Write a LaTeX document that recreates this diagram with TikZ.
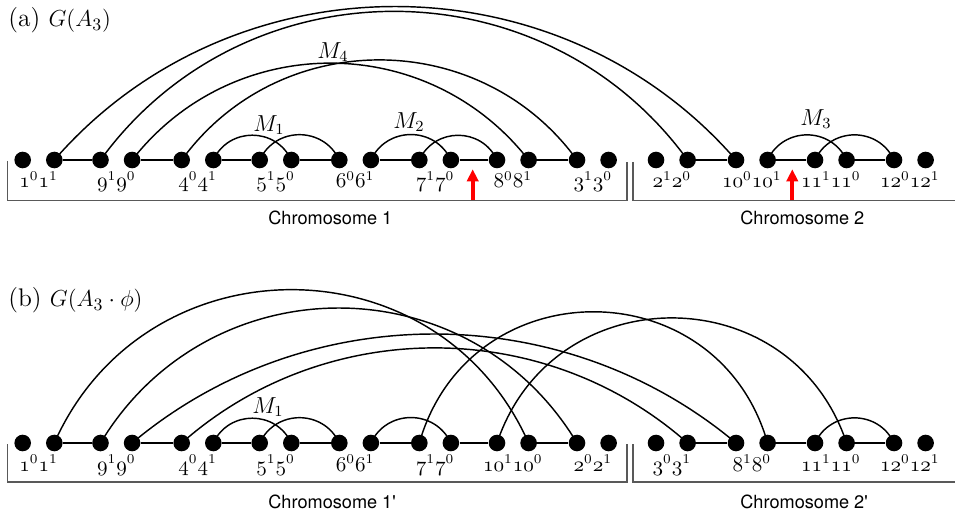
\documentclass[tikz,border=0pt]{standalone}
\usepackage{fontspec}
\newfontfamily\chromfont{TeX Gyre Heros}
\usetikzlibrary{arrows.meta}

% both extremities of a gene, with its label below
\newcommand{\gene}[6]{%
  \node[dot] (#1#4-#5) at (#2,#3) {};
  \node[dot] (#1#4-#6) at (#2+31.6,#3) {};
  \node[extlabel] (#1#4-lab) at (#2+15.8,#3-28) {$\mathnormal{#4}^{#5}\mathnormal{#4}^{#6}$};
}

\begin{document}
\begin{tikzpicture}[
    x=0.518pt, y=0.518pt,
    dot/.style={circle, fill=black, inner sep=0pt, minimum size=8.6pt},
    extlabel/.style={anchor=base, inner sep=0pt, font=\fontsize{10.5}{12}\selectfont},
    adj/.style={line width=1pt},
    arcline/.style={line width=0.75pt},
    shortbend/.style={bend left=65, looseness=1.2},
    chrom/.style={draw=black!65, line width=0.6pt},
    chromlabel/.style={anchor=west, inner sep=0pt, font=\chromfont\fontsize{9.4}{11}\selectfont},
    mlabel/.style={inner sep=0pt, font=\fontsize{12}{14}\selectfont},
    paneltitle/.style={anchor=base west, inner sep=0pt, font=\fontsize{13.2}{16}\selectfont},
    cutarrow/.style={draw=red, line width=1.9pt, -{Triangle[width=5.8pt, length=6.2pt]}}
]
    \useasboundingbox (0,0) rectangle (955,512);

    % (a) G(A_3)
    \node[paneltitle] (titleA) at (8,485) {(a) $G(A_3)$};
    % Chromosome 1
    \gene{a}{22.7}{352}{1}{0}{1}
    \gene{a}{100.5}{352}{9}{1}{0}
    \gene{a}{181.7}{352}{4}{0}{1}
    \gene{a}{259.7}{352}{5}{1}{0}
    \gene{a}{339.3}{352}{6}{0}{1}
    \gene{a}{419.3}{352}{7}{1}{0}
    \gene{a}{497}{352}{8}{0}{1}
    \gene{a}{577}{352}{3}{1}{0}
    % Chromosome 2
    \gene{a}{656}{352}{2}{1}{0}
    \gene{a}{736}{352}{10}{0}{1}
    \gene{a}{815}{352}{11}{1}{0}
    \gene{a}{894}{352}{12}{0}{1}
    % adjacencies
    \draw[adj] (a1-1) -- (a9-1);
    \draw[adj] (a9-0) -- (a4-0);
    \draw[adj] (a4-1) -- (a5-1);
    \draw[adj] (a5-0) -- (a6-0);
    \draw[adj] (a6-1) -- (a7-1);
    \draw[adj] (a7-0) -- (a8-0);
    \draw[adj] (a8-1) -- (a3-1);
    \draw[adj] (a2-0) -- (a10-0);
    \draw[adj] (a10-1) -- (a11-1);
    \draw[adj] (a11-0) -- (a12-0);
    % arcs
    \draw[arcline] (a1-1.center) to[bend left=49, looseness=1.02] (a10-0.center);
    \draw[arcline] (a9-1.center) to[bend left=54, looseness=1.07] (a2-0.center);
    \draw[arcline] (a9-0.center) to[bend left=52, looseness=1.06] (a8-1.center);
    \draw[arcline] (a4-0.center) to[bend left=54, looseness=1.07] (a3-1.center);
    \draw[arcline] (a4-1.center) to[shortbend] (a5-0.center);
    \draw[arcline] (a5-1.center) to[shortbend] (a6-0.center);
    \draw[arcline] (a6-1.center) to[shortbend] (a7-0.center);
    \draw[arcline] (a7-1.center) to[shortbend] (a8-0.center);
    \draw[arcline] (a10-1.center) to[shortbend] (a11-0.center);
    \draw[arcline] (a11-1.center) to[shortbend] (a12-0.center);
    \node[mlabel] (M1a) at (269,387) {$M_1$};
    \node[mlabel] (M2a) at (409,390) {$M_2$};
    \node[mlabel] (M3a) at (816,393) {$M_3$};
    \node[mlabel] (M4a) at (333,460) {$M_4$};
    % chromosome brackets
    \draw[chrom] (7.3,351) |- (627,311.5) -- (627,350);
    \draw[chrom] (633,350) |- (955,311.5);
    \node[chromlabel] (chr1a) at (268,294) {Chromosome 1};
    \node[chromlabel] (chr2a) at (740,294) {Chromosome 2};
    % cut points
    \coordinate (cutA) at (472.7,311.5);
    \coordinate (cutAtip) at (472.7,342.7);
    \coordinate (cutB) at (792.3,311.5);
    \coordinate (cutBtip) at (792.3,342.7);
    \draw[cutarrow] (cutA) -- (cutAtip);
    \draw[cutarrow] (cutB) -- (cutBtip);

    % (b) G(A_3 . phi)
    \node[paneltitle] (titleB) at (8,205) {(b) $G(A_3\cdot\phi)$};
    % Chromosome 1'
    \gene{b}{22.7}{69}{1}{0}{1}
    \gene{b}{100.5}{69}{9}{1}{0}
    \gene{b}{181.7}{69}{4}{0}{1}
    \gene{b}{259.7}{69}{5}{1}{0}
    \gene{b}{339.3}{69}{6}{0}{1}
    \gene{b}{419.3}{69}{7}{1}{0}
    \gene{b}{497}{69}{10}{1}{0}
    \gene{b}{577}{69}{2}{0}{1}
    % Chromosome 2'
    \gene{b}{656}{69}{3}{0}{1}
    \gene{b}{736}{69}{8}{1}{0}
    \gene{b}{815}{69}{11}{1}{0}
    \gene{b}{894}{69}{12}{0}{1}
    % adjacencies
    \draw[adj] (b1-1) -- (b9-1);
    \draw[adj] (b9-0) -- (b4-0);
    \draw[adj] (b4-1) -- (b5-1);
    \draw[adj] (b5-0) -- (b6-0);
    \draw[adj] (b6-1) -- (b7-1);
    \draw[adj] (b7-0) -- (b10-1);
    \draw[adj] (b10-0) -- (b2-0);
    \draw[adj] (b3-1) -- (b8-1);
    \draw[adj] (b8-0) -- (b11-1);
    \draw[adj] (b11-0) -- (b12-0);
    % arcs
    \draw[arcline] (b1-1.center) to[bend left=66, looseness=1.21] (b10-0.center);
    \draw[arcline] (b9-1.center) to[bend left=59, looseness=1.13] (b2-0.center);
    \draw[arcline] (b9-0.center) to[bend left=40, looseness=0.96] (b8-1.center);
    \draw[arcline] (b4-0.center) to[bend left=41.5, looseness=0.97] (b3-1.center);
    \draw[arcline] (b4-1.center) to[shortbend] (b5-0.center);
    \draw[arcline] (b5-1.center) to[shortbend] (b6-0.center);
    \draw[arcline] (b6-1.center) to[shortbend] (b7-0.center);
    \draw[arcline] (b7-1.center) to[bend left=74, looseness=1.34] (b8-0.center);
    \draw[arcline] (b10-1.center) to[bend left=71.5, looseness=1.29] (b11-0.center);
    \draw[arcline] (b11-1.center) to[shortbend] (b12-0.center);
    \node[mlabel] (M1b) at (268,105) {$M_1$};
    % chromosome brackets
    \draw[chrom] (7.3,68) |- (627,30) -- (627,68);
    \draw[chrom] (633,68) |- (955,30);
    \node[chromlabel] (chr1b) at (268,10.5) {Chromosome 1'};
    \node[chromlabel] (chr2b) at (740,10.5) {Chromosome 2'};
\end{tikzpicture}
\end{document}
